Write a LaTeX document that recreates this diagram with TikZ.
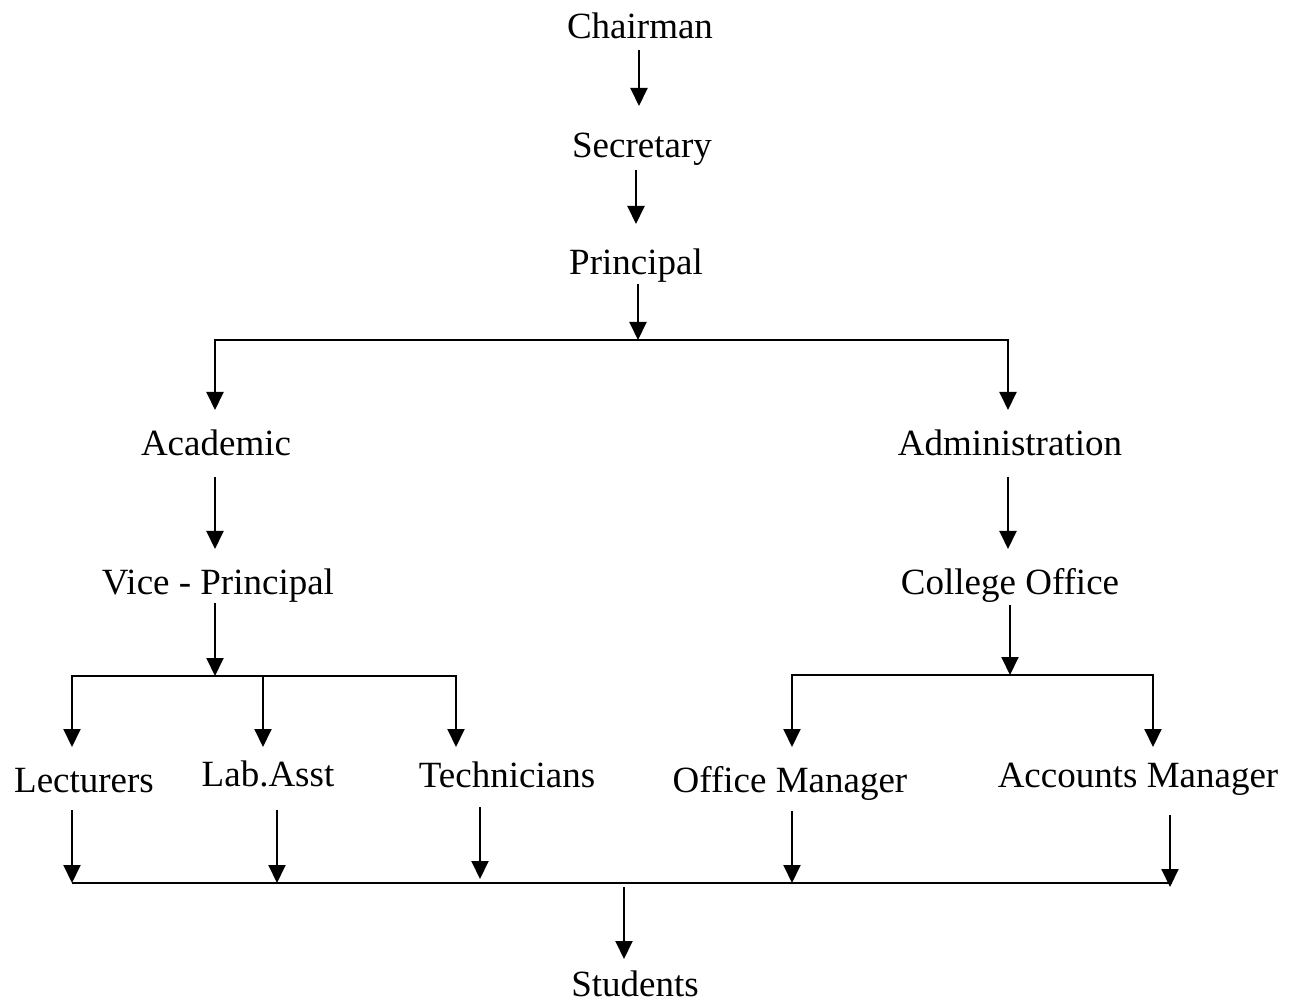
\documentclass[tikz,border=0pt]{standalone}
\usepackage{fontspec}
\setmainfont{Liberation Serif}
\usetikzlibrary{arrows.meta}
\begin{document}
\begin{tikzpicture}[x=0.5pt,y=-0.5pt,
  lbl/.style={anchor=base,inner sep=0pt,font=\fontsize{18.5}{22}\selectfont},
  tipshape/.tip={Triangle[width=8.5pt,length=9pt]},
  arr/.style={line width=1pt,-tipshape},
  twoarr/.style={line width=1pt,tipshape-tipshape},
  bus/.style={line width=1pt}]
\useasboundingbox (0,0) rectangle (1292,1000);

% ---- labels ----
\node[lbl] (chair) at (640,39)  {Chairman};
\node[lbl] (sec)   at (642,158) {Secretary};
\node[lbl] (prin)  at (636,275) {Principal};
\node[lbl] (acad)  at (216,456) {Academic};
\node[lbl] (admin) at (1010,456) {Administration};
\node[lbl] (vice)  at (218,594) {Vice - Principal};
\node[lbl] (coll)  at (1010,594) {College Office};
\node[lbl] (lect)  at (84,792)  {Lecturers};
\node[lbl] (lab)   at (268,786) {Lab.Asst};
\node[lbl] (tech)  at (507,787) {Technicians};
\node[lbl] (offm)  at (790,792) {Office Manager};
\node[lbl] (accm)  at (1138,787) {Accounts Manager};
\node[lbl] (stud)  at (635,996) {Students};

% ---- top chain ----
\coordinate (c1) at (639,50);  \coordinate (c2) at (639,106);
\coordinate (s1) at (636,170); \coordinate (s2) at (636,224);
\coordinate (p1) at (638,284); \coordinate (p2) at (638,340);
\draw[arr] (c1) -- (c2);
\draw[arr] (s1) -- (s2);
\draw[arr] (p1) -- (p2);

% ---- split into Academic / Administration ----
\coordinate (acadtip) at (215,410);  \coordinate (admtip) at (1008,410);
\coordinate (acadcor) at (215,340);  \coordinate (admcor) at (1008,340);
\draw[twoarr] (acadtip) -- (acadcor) -- (admcor) -- (admtip);

\coordinate (a1) at (215,477); \coordinate (a2) at (215,549);
\coordinate (d1) at (1008,477); \coordinate (d2) at (1008,549);
\draw[arr] (a1) -- (a2);
\draw[arr] (d1) -- (d2);

\coordinate (v1) at (215,603); \coordinate (v2) at (215,676);
\coordinate (o1) at (1010,605); \coordinate (o2) at (1010,675);
\draw[arr] (v1) -- (v2);
\draw[arr] (o1) -- (o2);

% ---- academic staff ----
\coordinate (lectcor) at (72,676);  \coordinate (lecttip) at (72,747);
\coordinate (techcor) at (456,676); \coordinate (techtip) at (456,747);
\coordinate (labtop)  at (263,676); \coordinate (labtip)  at (263,747);
\draw[twoarr] (lecttip) -- (lectcor) -- (techcor) -- (techtip);
\draw[arr] (labtop) -- (labtip);

% ---- office staff ----
\coordinate (offcor) at (792,675);  \coordinate (offtip) at (792,747);
\coordinate (acccor) at (1153,675); \coordinate (acctip) at (1153,747);
\draw[twoarr] (offtip) -- (offcor) -- (acccor) -- (acctip);

% ---- down to students ----
\coordinate (l1) at (72,810);   \coordinate (l2) at (72,883);
\coordinate (b1) at (277,810);  \coordinate (b2) at (277,883);
\coordinate (t1) at (480,807);  \coordinate (t2) at (480,879);
\coordinate (m1) at (792,811);  \coordinate (m2) at (792,883);
\coordinate (n1) at (1170,815); \coordinate (n2) at (1170,887);
\draw[arr] (l1) -- (l2);
\draw[arr] (b1) -- (b2);
\draw[arr] (t1) -- (t2);
\draw[arr] (m1) -- (m2);
\draw[arr] (n1) -- (n2);
\coordinate (busL) at (72,883); \coordinate (busR) at (1172,883);
\draw[bus] (busL) -- (busR);

\coordinate (st1) at (624,887); \coordinate (st2) at (624,959);
\draw[arr] (st1) -- (st2);
\end{tikzpicture}
\end{document}
